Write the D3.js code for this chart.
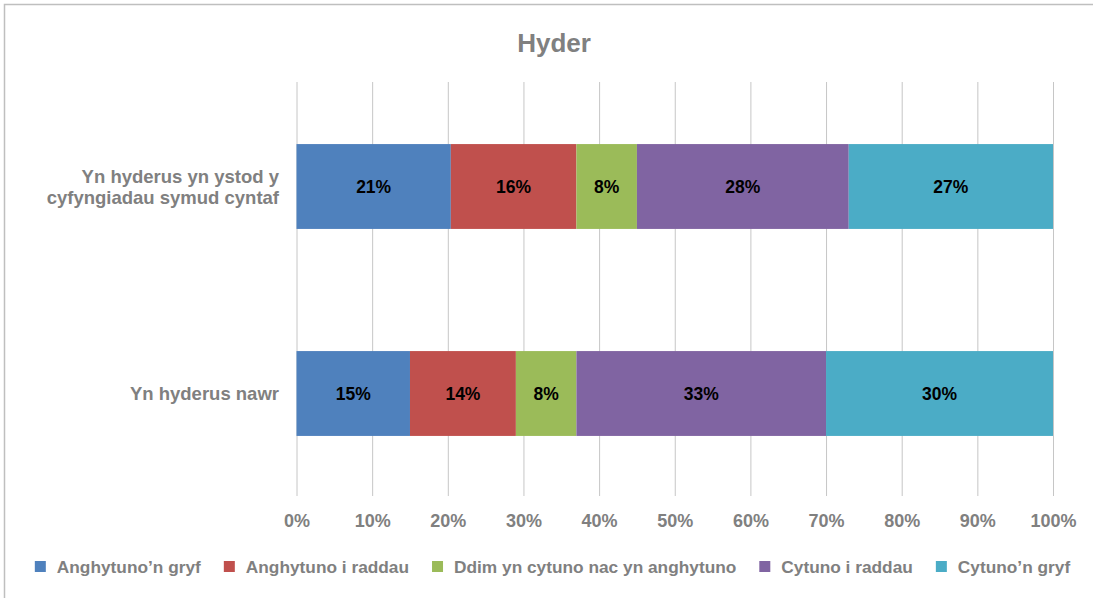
<!DOCTYPE html>
<html>
<head>
<meta charset="utf-8">
<script src="https://cdn.jsdelivr.net/npm/d3@7"></script>
<style>
  body { margin: 0; background: #fff; }
  text { font-family: "Liberation Sans", Arial, sans-serif; font-weight: bold; }
</style>
</head>
<body>
<script>
"use strict";

// chart data
const title = "Hyder";
const categories = ["Yn hyderus yn ystod y cyfyngiadau symud cyntaf", "Yn hyderus nawr"];
const seriesNames = ["Anghytuno\u2019n gryf", "Anghytuno i raddau", "Ddim yn cytuno nac yn anghytuno", "Cytuno i raddau", "Cytuno\u2019n gryf"];
const seriesColors = ["#4f81bd", "#c0504d", "#9bbb59", "#8064a2", "#4bacc6"];
// values per series, one per category (percent)
const strongDisagree = [20.4, 15.0];
const disagree = [16.6, 14.0];
const neutral = [8.0, 8.0];
const agree = [28.0, 33.0];
const strongAgree = [27.0, 30.0];
// printed data labels
const strongDisagreeLabels = ["21%", "15%"];
const disagreeLabels = ["16%", "14%"];
const neutralLabels = ["8%", "8%"];
const agreeLabels = ["28%", "33%"];
const strongAgreeLabels = ["27%", "30%"];
const xTicks = [0, 10, 20, 30, 40, 50, 60, 70, 80, 90, 100];

(function()
{
	let width = 1093, height = 598;
	let grey = "#808080";

	let seriesValues = [strongDisagree, disagree, neutral, agree, strongAgree];
	let seriesLabels = [strongDisagreeLabels, disagreeLabels, neutralLabels, agreeLabels, strongAgreeLabels];

	//build table for the stack
	let table = categories.map(function(c, i) {
		let row = {category: c, index: i};
		seriesNames.forEach(function(s, j) { row[s] = seriesValues[j][i]; });
		return row;
	});
	let stacked = d3.stack().keys(seriesNames)(table);

	let svg = d3.select("body").append("svg")
		.attr("width", width)
		.attr("height", height);
	svg.append("rect")
		.attr("width", width)
		.attr("height", height)
		.attr("fill", "white");
	//outer frame
	svg.append("rect")
		.attr("x", 4.5).attr("y", 4.5)
		.attr("width", 1120).attr("height", 640)
		.attr("fill", "none")
		.attr("stroke", "#bfbfbf")
		.attr("stroke-width", 1.5);

	svg.append("text")
		.attr("x", 554).attr("y", 52)
		.attr("text-anchor", "middle")
		.attr("font-size", 26)
		.attr("fill", grey)
		.text(title);

	let x = d3.scaleLinear().domain([0, 100]).range([296.5, 1053]);
	let y = d3.scaleBand().domain(categories).range([83, 497])
		.paddingInner(0.59).paddingOuter(0.295);

	//gridlines + tick labels
	let xAxis = svg.append("g")
		.attr("transform", "translate(0,496)")
		.call(d3.axisBottom(x)
			.tickValues(xTicks)
			.tickFormat(function(d) { return d + "%"; })
			.tickSize(-414)
			.tickPadding(18));
	xAxis.select(".domain").remove();
	xAxis.selectAll(".tick line").attr("stroke", "#c6c6c6").attr("stroke-width", 1);
	xAxis.selectAll(".tick text")
		.attr("fill", grey)
		.attr("font-size", 18)
		.attr("font-family", "Liberation Sans, Arial, sans-serif")
		.attr("font-weight", "bold");

	//bars
	let layers = svg.append("g").selectAll("g")
		.data(stacked)
		.join("g")
		.attr("fill", function(d, i) { return seriesColors[i]; });
	layers.selectAll("rect")
		.data(function(d) { return d; })
		.join("rect")
		.attr("x", function(d) { return x(d[0]); })
		.attr("width", function(d) { return x(d[1]) - x(d[0]); })
		.attr("y", function(d) { return y(d.data.category); })
		.attr("height", y.bandwidth());

	//data labels
	layers.each(function(s, i) {
		d3.select(this).selectAll("text")
			.data(s)
			.join("text")
			.attr("x", function(d) { return (x(d[0]) + x(d[1])) / 2; })
			.attr("y", function(d) { return y(d.data.category) + y.bandwidth() / 2; })
			.attr("dy", "0.36em")
			.attr("text-anchor", "middle")
			.attr("font-size", 17.5)
			.attr("fill", "#000")
			.text(function(d) { return seriesLabels[i][d.data.index]; });
	});

	//category labels, wrapped
	let cat = svg.append("g").selectAll("text")
		.data(categories)
		.join("text")
		.attr("text-anchor", "end")
		.attr("font-size", 18.5)
		.attr("fill", grey);
	cat.each(function(c) {
		let t = d3.select(this);
		let words = c.split(" ");
		let lines = [], line = [];
		let probe = t.append("tspan");
		words.forEach(function(w) {
			line.push(w);
			probe.text(line.join(" "));
			if (probe.node().getComputedTextLength() > 250 && line.length > 1) {
				line.pop();
				lines.push(line.join(" "));
				line = [w];
			}
		});
		lines.push(line.join(" "));
		probe.remove();
		let lh = 21;
		let cy = y(c) + y.bandwidth() / 2;
		let top = cy - (lines.length - 1) * lh / 2 + 6.5;
		lines.forEach(function(l, k) {
			t.append("tspan").attr("x", 279).attr("y", top + k * lh).text(l);
		});
	});

	//legend, centred
	let legend = svg.append("g");
	let items = legend.selectAll("g")
		.data(seriesNames)
		.join("g");
	items.append("rect")
		.attr("y", 561)
		.attr("width", 11).attr("height", 11)
		.attr("fill", function(d, i) { return seriesColors[i]; });
	items.append("text")
		.attr("x", 22).attr("y", 573)
		.attr("font-size", 17.3)
		.attr("fill", grey)
		.text(function(d) { return d; });
	let pos = 0, offsets = [];
	items.each(function() {
		offsets.push(pos);
		pos += 22 + d3.select(this).select("text").node().getComputedTextLength() + 23;
	});
	let total = pos - 23;
	let start = 552.5 - total / 2;
	items.attr("transform", function(d, i) { return "translate(" + (start + offsets[i]) + ",0)"; });
})();
</script>
</body>
</html>
